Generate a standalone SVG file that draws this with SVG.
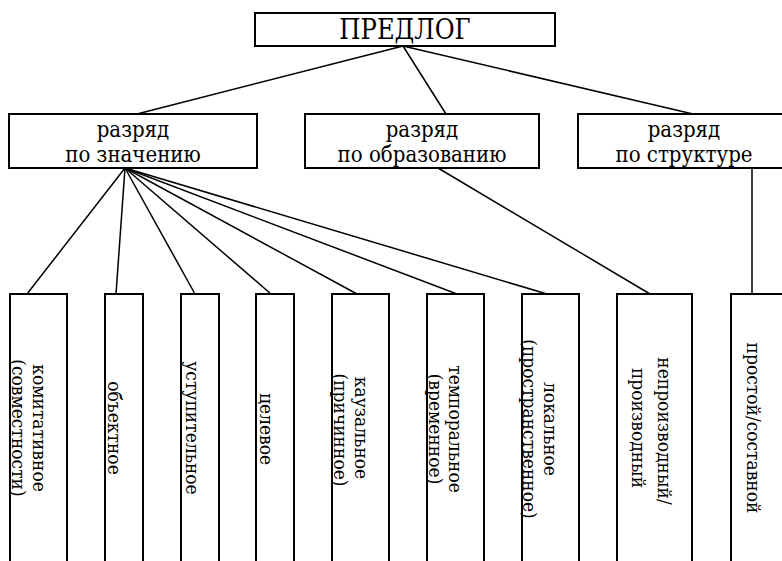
<svg xmlns="http://www.w3.org/2000/svg" width="782" height="561" viewBox="0 0 782 561">
<style>
.box{fill:#fff;stroke:#000;stroke-width:2}
.conn{stroke:#000;stroke-width:1.5;fill:none}
text{font-family:'DejaVu Serif Condensed','DejaVu Serif',serif;font-stretch:condensed;fill:#000;font-size:19px}
.h{text-anchor:middle;font-size:22px}
.v{text-anchor:middle}
.big{font-size:27px}
</style>
<rect width="782" height="561" fill="#fff"/>
<g id="connectors">
<path class="conn" d="M403,46 L137,114"/>
<path class="conn" d="M403,46 L446,114"/>
<path class="conn" d="M403,46 L693,114"/>
<path class="conn" d="M125,168 L27,294"/>
<path class="conn" d="M125,168 L116,294"/>
<path class="conn" d="M125,168 L195,294"/>
<path class="conn" d="M125,168 L271,294"/>
<path class="conn" d="M125,168 L357,294"/>
<path class="conn" d="M125,168 L457,294"/>
<path class="conn" d="M125,168 L547,294"/>
<path class="conn" d="M438,168 L650,294"/>
<path class="conn" d="M752,168 L752,294"/>
</g>
<g id="predlog">
<rect class="box" x="255" y="13" width="300" height="33"/>
<text class="h big" x="405" y="38.5">ПРЕДЛОГ</text>
</g>
<g id="razryad-znachenie">
<rect class="box" x="9" y="114" width="248" height="54"/>
<text class="h" x="133" y="137">разряд</text>
<text class="h" x="133" y="162">по значению</text>
</g>
<g id="razryad-obrazovanie">
<rect class="box" x="305" y="114" width="234" height="54"/>
<text class="h" x="422" y="137">разряд</text>
<text class="h" x="422" y="162">по образованию</text>
</g>
<g id="razryad-struktura">
<rect class="box" x="578" y="114" width="212" height="54"/>
<text class="h" x="684" y="137">разряд</text>
<text class="h" x="684" y="162">по структуре</text>
</g>
<g id="komitativnoe">
<rect class="box" x="10" y="294" width="57" height="280"/>
<text class="v" transform="translate(33,428) rotate(90)">комитативное</text>
<text class="v" transform="translate(12,428) rotate(90)">(совместности)</text>
</g>
<g id="obektnoe">
<rect class="box" x="105" y="294" width="38" height="280"/>
<text class="v" transform="translate(108,428) rotate(90)">объектное</text>
</g>
<g id="ustupitelnoe">
<rect class="box" x="181" y="294" width="38" height="280"/>
<text class="v" transform="translate(186,428) rotate(90)">уступительное</text>
</g>
<g id="tselevoe">
<rect class="box" x="256" y="294" width="38" height="280"/>
<text class="v" transform="translate(260,429) rotate(90)">целевое</text>
</g>
<g id="kauzalnoe">
<rect class="box" x="332" y="294" width="57" height="280"/>
<text class="v" transform="translate(355,428) rotate(90)">каузальное</text>
<text class="v" transform="translate(334,430) rotate(90)">(причинное)</text>
</g>
<g id="temporalnoe">
<rect class="box" x="427" y="294" width="57" height="280"/>
<text class="v" transform="translate(449,429) rotate(90)">темпоральное</text>
<text class="v" transform="translate(429,429) rotate(90)">(временное)</text>
</g>
<g id="lokalnoe">
<rect class="box" x="522" y="294" width="57" height="280"/>
<text class="v" transform="translate(544,429) rotate(90)">локальное</text>
<text class="v" transform="translate(523,429) rotate(90)">(пространственное)</text>
</g>
<g id="neproizvodny">
<rect class="box" x="617" y="294" width="75" height="280"/>
<text class="v" transform="translate(658,431) rotate(90)">непроизводный/</text>
<text class="v" transform="translate(632,428) rotate(90)">производный</text>
</g>
<g id="prostoy">
<rect class="box" x="731" y="294" width="60" height="280"/>
<text class="v" transform="translate(747,428) rotate(90)">простой/составной</text>
</g>
</svg>
